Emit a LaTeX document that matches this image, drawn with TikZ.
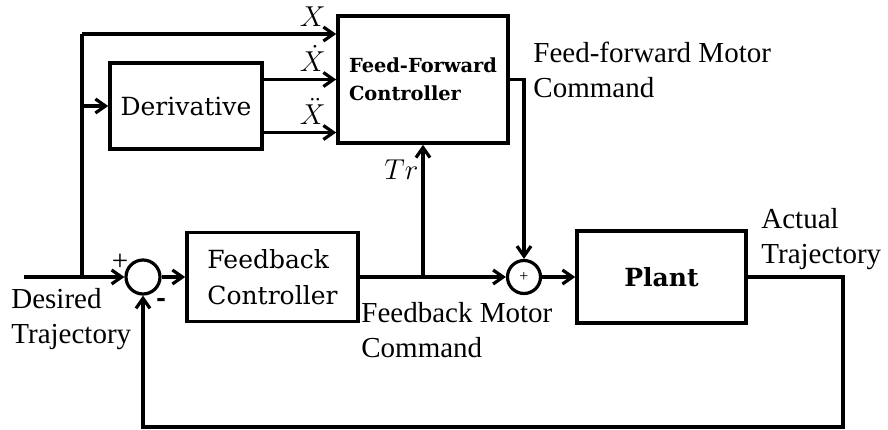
\documentclass[tikz,border=0pt]{standalone}
\usepackage{fontspec}
\setmainfont{Liberation Serif}
\newfontfamily\boxfont{DejaVu Serif}
\usetikzlibrary{arrows.meta}
\tikzset{
  blk/.style={draw,line width=1.8pt,inner sep=0pt,align=left,font=\boxfont\fontsize{12.5}{18}\selectfont},
  sumj/.style={circle,draw,line width=1.6pt,inner sep=0pt},
  wire/.style={line width=1.6pt},
  lbl/.style={inner sep=0pt,align=left,font=\fontsize{14.5}{17.5}\selectfont},
  sig/.style={lbl,above left,xshift=-4.5pt,yshift=3pt}
}

\begin{document}
\begin{tikzpicture}[x=0.5pt,y=-0.5pt,>={Straight Barb[length=5pt,width=7pt]}]
  \useasboundingbox (0,0) rectangle (888,429);
  % blocks
  \node[blk,minimum width=85pt,minimum height=63.5pt,font=\boxfont\bfseries\fontsize{9.7}{14}\selectfont] (ff) at (423,79.5) {Feed-Forward\\Controller};
  \node[blk,minimum width=76pt,minimum height=43pt] (der) at (186,106) {Derivative};
  \node[blk,minimum width=85.5pt,minimum height=44.5pt] (fb) at (272.5,277) {Feedback\\Controller};
  \node[blk,minimum width=84.5pt,minimum height=46pt,font=\boxfont\bfseries\fontsize{12.5}{18}\selectfont] (plant) at (661.5,277) {Plant};
  \node[sumj,minimum size=17pt] (s1) at (143,277) {};
  \node[sumj,minimum size=16.5pt,font=\fontsize{8}{8}\selectfont] (s2) at (524,277) {+};
  \node[lbl] (plus) at (120,262) {+};
  \node[lbl,font=\boxfont\bfseries\fontsize{12}{12}\selectfont] (minus) at (161,302) {-};

  \coordinate (din) at (24,277);
  \coordinate (br) at (82,277);
  \coordinate (top) at (82,34);
  \coordinate (tap) at (423,277);
  \coordinate (ret) at (843,427);

  % signals
  \draw[wire,->] (din) -- (s1);
  \draw[wire] (br) -- (top);
  \draw[wire,->] (top) -- (top -| ff.west) node[sig] {$X$};
  \draw[wire,->] (br |- der.west) -- (der.west);
  \draw[wire,->] ([yshift=13.25pt]der.east) -- ([yshift=13.25pt]der.east -| ff.west) node[sig] {$\dot{X}$};
  \draw[wire,->] ([yshift=-13.25pt]der.east) -- ([yshift=-13.25pt]der.east -| ff.west) node[sig] {$\ddot{X}$};
  \draw[wire,->] (s1) -- (fb);
  \draw[wire,->] (fb) -- (s2);
  \draw[wire,->] (tap) -- (ff.south) node[lbl,left,pos=0.81,xshift=-1.5pt] {$Tr$};
  \draw[wire,->] (ff.east) -| (s2.north);
  \draw[wire,->] (s2) -- (plant);
  \draw[wire,->] (plant.east) -- (plant.east -| ret) -- (ret) -| (s1.south);

  % texts
  \node[lbl,anchor=north west] (desired) at (11,288) {Desired\\Trajectory};
  \node[lbl,anchor=north west] (fbcmd) at (361,302) {Feedback Motor\\Command};
  \node[lbl,anchor=north west] (ffcmd) at (533,42) {Feed-forward Motor\\Command};
  \node[lbl,anchor=north west] (actual) at (761,208) {Actual\\Trajectory};
\end{tikzpicture}
\end{document}
